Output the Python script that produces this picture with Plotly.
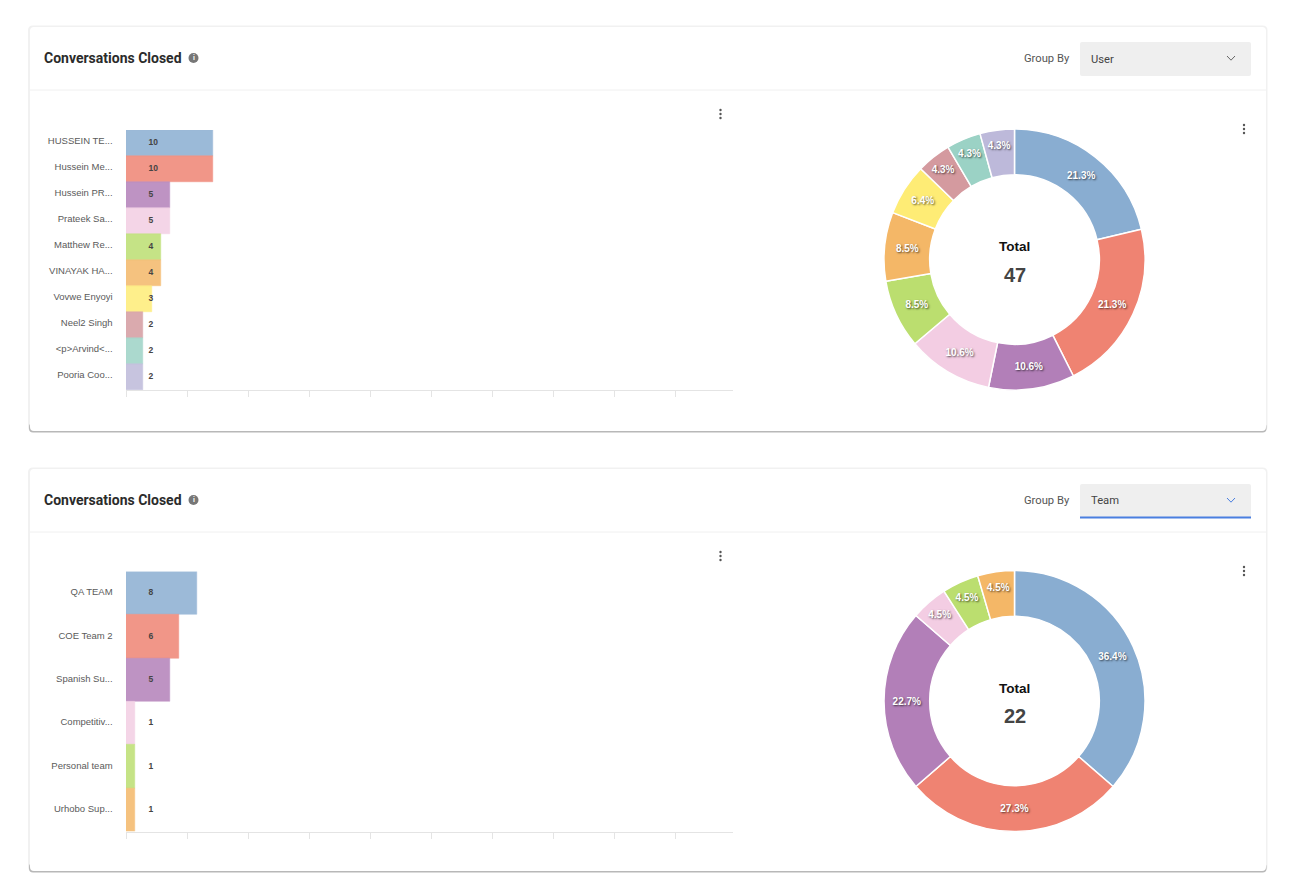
import plotly.graph_objects as go

W, H = 1296, 888

users = ["HUSSEIN TE...", "Hussein Me...", "Hussein PR...", "Prateek Sa...", "Matthew Re...",
         "VINAYAK HA...", "Vovwe Enyoyi", "Neel2 Singh", "&lt;p&gt;Arvind&lt;...", "Pooria Coo..."]
user_values = [10, 10, 5, 5, 4, 4, 3, 2, 2, 2]
teams = ["QA TEAM", "COE Team 2", "Spanish Su...", "Competitiv...", "Personal team", "Urhobo Sup..."]
team_values = [8, 6, 5, 1, 1, 1]
colors = ["#89ADD1", "#EF8372", "#B27FB8", "#F3CDE3", "#BBDE6F",
          "#F4B767", "#FEEC75", "#D49A9F", "#9BD2C5", "#BDB9DA"]
title_text = "Conversations Closed"
group_label = "Group By"
group_values = ["User", "Team"]
UI = "Roboto, sans-serif"
CHART = "Liberation Sans, Arial, sans-serif"


def fx(x):
    return x / W


def fy(y):
    return 1 - y / H


shapes, annotations = [], []


def rrect(x0, y0, x1, y1, r, fill):
    xa, xb, ya, yb = fx(x0), fx(x1), fy(y0), fy(y1)
    rx, ry = r / W, r / H
    path = (f"M{xa+rx},{ya} L{xb-rx},{ya} Q{xb},{ya} {xb},{ya-ry} L{xb},{yb+ry} Q{xb},{yb} {xb-rx},{yb} "
            f"L{xa+rx},{yb} Q{xa},{yb} {xa},{yb+ry} L{xa},{ya-ry} Q{xa},{ya} {xa+rx},{ya} Z")
    shapes.append(dict(type="path", xref="paper", yref="paper", path=path, fillcolor=fill, line_width=0, layer="below"))


def line(x0, y0, x1, y1, color, width=1):
    shapes.append(dict(type="line", xref="paper", yref="paper", x0=fx(x0), y0=fy(y0), x1=fx(x1), y1=fy(y1),
                       line=dict(color=color, width=width), layer="below"))


def dot(cx, cy, r, color):
    shapes.append(dict(type="circle", xref="paper", yref="paper", x0=fx(cx - r), x1=fx(cx + r),
                       y0=fy(cy - r), y1=fy(cy + r), fillcolor=color, line_width=0))


def text(x, y, s, size, color, family=UI, anchor="left", bold=False):
    annotations.append(dict(xref="paper", yref="paper", x=fx(x), y=fy(y), text=f"<b>{s}</b>" if bold else s,
                            showarrow=False, xanchor=anchor, yanchor="middle", borderpad=0,
                            font=dict(family=family, size=size, color=color)))


def chevron(cx, cy, color):
    xs = [fx(cx - 4), fx(cx), fx(cx + 4)]
    ys = [fy(cy - 2), fy(cy + 2.2), fy(cy - 2)]
    shapes.append(dict(type="path", xref="paper", yref="paper", line=dict(color=color, width=1),
                       path=f"M{xs[0]},{ys[0]} L{xs[1]},{ys[1]} L{xs[2]},{ys[2]}"))


def card(top, bottom, group, focused):
    rrect(28, top - 1.5, 1267.5, bottom + 0.5, 5, "#f1f1f1")
    rrect(29, bottom - 8, 1266.5, bottom + 1.5, 4, "#b8b8b8")
    rrect(30, top, 1266, bottom, 4, "#ffffff")
    line(30, top + 63, 1266, top + 63, "#f0f0f0")
    text(42.5, top + 31, title_text, 14, "#2b2b2b", bold=True)
    dot(193.5, top + 31, 5, "#777777")
    text(193.5, top + 31, "i", 7, "#ffffff", anchor="center", bold=True)
    text(1070.5, top + 31, group_label, 11.2, "#555555", anchor="right")
    rrect(1080, top + 15, 1251, top + 49, 2, "#efefef")
    text(1089.5, top + 32, group, 11.2, "#444444")
    chevron(1231, top + 31, "#4a7fe0" if focused else "#666666")
    if focused:
        line(1080, top + 48.5, 1251, top + 48.5, "#4a7fe0", 2)
    for cx, cy in ((720.5, top + 87), (1244, top + 102)):
        for d in (-4, 0, 4):
            dot(cx, cy + d, 1.2, "#555555")


card(27, 431, group_values[0], False)
card(469, 871, group_values[1], True)

fig = go.Figure()


def add_bar(names, values, n, top, bottom, pie_cy, scale):
    suffix = "" if n == 1 else str(n)
    cols = colors[: len(values)]
    fig.add_trace(go.Bar(y=names, x=values, orientation="h", width=1, xaxis=f"x{suffix}", yaxis=f"y{suffix}",
                         marker=dict(color=cols, opacity=0.84, line=dict(color=cols, width=0.5)),
                         hoverinfo="skip"))
    fig.add_trace(go.Scatter(y=names, x=[22.5 / scale] * len(values), mode="text", xaxis=f"x{suffix}",
                             yaxis=f"y{suffix}", text=[str(v) for v in values], textposition="middle right",
                             textfont=dict(family=CHART, size=8.5, color="#444444", weight="bold"),
                             hoverinfo="skip", cliponaxis=False))
    fig.add_trace(go.Pie(values=values, labels=names, hole=0.65, sort=False, direction="clockwise", rotation=0,
                         domain=dict(x=[fx(1014.5 - 130.5), fx(1014.5 + 130.5)],
                                     y=[fy(pie_cy + 130.5), fy(pie_cy - 130.5)]),
                         marker=dict(colors=cols, line=dict(color="#ffffff", width=1.5)),
                         texttemplate="%{percent:.1%}", textposition="inside", insidetextorientation="horizontal",
                         textfont=dict(family=CHART, size=10, color="#ffffff", weight="bold",
                                       shadow="1px 1px 2px rgba(0,0,0,0.65)"),
                         showlegend=False, hoverinfo="skip"))
    ax = dict(domain=[fx(126), fx(733)], range=[0, 607 / scale], dtick=61 / scale, tick0=0, ticks="outside", ticklen=6,
              tickcolor="#e4e4e4", showticklabels=False, showgrid=False, zeroline=False,
              showline=True, linecolor="#e4e4e4", anchor=f"y{suffix}", fixedrange=True)
    ay = dict(domain=[fy(bottom), fy(top)], autorange="reversed", type="category", ticks="outside", ticklen=10.5,
              tickcolor="rgba(0,0,0,0)", tickfont=dict(family=CHART, size=9.5, color="#5a5a5a"),
              ticklabelshift=2 if n == 1 else 1,
              showline=False, showgrid=False, zeroline=False, anchor=f"x{suffix}", fixedrange=True)
    fig.update_layout({f"xaxis{suffix}": ax, f"yaxis{suffix}": ay})
    text(1014.5, pie_cy - 13, "Total", 13.5, "#111111", family=CHART, anchor="center", bold=True)
    text(1014.5, pie_cy + 15, str(sum(values)), 20, "#444444", family=CHART, anchor="center", bold=True)


add_bar(users, user_values, 1, 130, 390, 259.5, 8.7)
add_bar(teams, team_values, 2, 571.5, 831.5, 701, 8.85)

fig.update_layout(width=W, height=H, margin=dict(l=0, r=0, t=0, b=0), paper_bgcolor="#ffffff",
                  plot_bgcolor="rgba(0,0,0,0)", showlegend=False, barmode="overlay", bargap=0,
                  shapes=shapes, annotations=annotations)

fig.write_html("out.html", config=dict(displayModeBar=False),
               post_script="document.body.style.margin='0';document.body.style.overflow='hidden';")
